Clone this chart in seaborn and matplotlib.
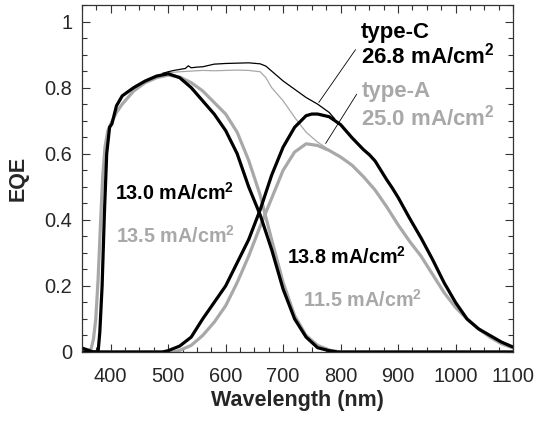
import matplotlib
matplotlib.use('Agg')
import matplotlib.pyplot as plt
import seaborn as sns
from matplotlib.ticker import MultipleLocator

# type-C top cell (thick black)
wl_c_top = [350, 360, 369, 378, 381, 385, 389, 393, 398, 402, 410, 420, 440, 460, 480, 500,
            520, 540, 560, 580, 600, 620, 640, 660, 680, 700, 720, 740, 760, 780, 795, 1100]
eqe_c_top = [0.012, 0.006, 0.0, 0.0, 0.06, 0.2, 0.42, 0.6, 0.68, 0.69, 0.745, 0.775, 0.8, 0.82, 0.835, 0.842,
             0.83, 0.8, 0.76, 0.72, 0.67, 0.6, 0.5, 0.415, 0.31, 0.19, 0.1, 0.045, 0.013, 0.004, 0.0, 0.0]

# type-A top cell (thick gray)
wl_a_top = [350, 360, 366, 370, 374, 378, 382, 386, 390, 395, 400, 410, 420, 440, 460, 480, 500,
            520, 540, 560, 580, 600, 620, 640, 660, 680, 700, 720, 740, 760, 780, 800, 1100]
eqe_a_top = [0.0, 0.003, 0.01, 0.04, 0.1, 0.22, 0.38, 0.53, 0.62, 0.67, 0.69, 0.725, 0.75, 0.79, 0.815, 0.83, 0.838,
             0.832, 0.815, 0.79, 0.755, 0.72, 0.665, 0.58, 0.475, 0.34, 0.21, 0.11, 0.05, 0.02, 0.006, 0.0, 0.0]

# type-C bottom cell (thick black)
wl_c_bot = [350, 490, 500, 520, 540, 560, 580, 600, 620, 640, 660, 680, 700, 720, 740, 750, 760, 780, 800,
            820, 830, 840, 850, 860, 870, 880, 890, 900, 920, 940, 960, 980, 1000, 1020, 1040, 1060, 1080, 1100]
eqe_c_bot = [0.0, 0.0, 0.004, 0.018, 0.045, 0.1, 0.15, 0.2, 0.27, 0.34, 0.43, 0.535, 0.62, 0.68, 0.715, 0.72, 0.72,
             0.712, 0.688, 0.648, 0.63, 0.612, 0.597, 0.578, 0.55, 0.522, 0.496, 0.468, 0.405, 0.345, 0.28, 0.21,
             0.15, 0.1, 0.07, 0.05, 0.03, 0.015]

# type-A bottom cell (thick gray)
wl_a_bot = [350, 510, 520, 540, 560, 580, 600, 620, 640, 660, 680, 700, 720, 740, 760, 780, 800, 820, 840,
            860, 880, 900, 920, 940, 960, 980, 1000, 1020, 1040, 1060, 1080, 1100]
eqe_a_bot = [0.0, 0.0, 0.005, 0.02, 0.05, 0.09, 0.14, 0.21, 0.29, 0.38, 0.465, 0.55, 0.605, 0.63, 0.625, 0.61,
             0.59, 0.565, 0.53, 0.49, 0.44, 0.385, 0.335, 0.29, 0.235, 0.18, 0.135, 0.1, 0.07, 0.045, 0.025, 0.012]

# totals (thin lines)
wl_c_sum = [490, 500, 510, 520, 530, 535, 540, 550, 560, 570, 580, 600, 620, 640, 660, 670, 680, 700,
            720, 740, 760, 780, 790]
eqe_c_sum = [0.843, 0.848, 0.852, 0.855, 0.858, 0.866, 0.86, 0.862, 0.863, 0.867, 0.871, 0.873, 0.874, 0.875,
             0.872, 0.865, 0.85, 0.82, 0.795, 0.77, 0.75, 0.725, 0.705]
wl_a_sum = [490, 500, 520, 540, 560, 580, 600, 620, 640, 660, 670, 680, 700, 720, 740, 760, 780]
eqe_a_sum = [0.843, 0.845, 0.848, 0.85, 0.852, 0.851, 0.852, 0.853, 0.852, 0.848, 0.83, 0.8, 0.76, 0.71,
             0.665, 0.635, 0.612]

x_ticks = [400, 500, 600, 700, 800, 900, 1000, 1100]
y_ticks = [0, 0.2, 0.4, 0.6, 0.8, 1.0]
y_tick_labels = ['0', '0.2', '0.4', '0.6', '0.8', '1']

# annotations: (text, x, y, colour, size)
labels = [
    ('type-C', 835, 0.951, 'black', 16),
    (r'26.8 mA/cm$^{\mathbf{2}}$', 835, 0.873, 'black', 16),
    ('type-A', 836, 0.773, 'gray', 16),
    (r'25.0 mA/cm$^{\mathbf{2}}$', 836, 0.686, 'gray', 16),
    (r'13.0 mA/cm$^{\mathbf{2}}$', 407, 0.462, 'black', 14.2),
    (r'13.5 mA/cm$^{\mathbf{2}}$', 410, 0.329, 'gray', 14.2),
    (r'13.8 mA/cm$^{\mathbf{2}}$', 707, 0.266, 'black', 14.2),
    (r'11.5 mA/cm$^{\mathbf{2}}$', 735, 0.136, 'gray', 14.2),
]
leader_c_x = [826, 762]
leader_c_y = [0.915, 0.755]
leader_a_x = [828, 774]
leader_a_y = [0.78, 0.631]

GRAY = '#a8a8a8'

sns.set_style('ticks')
plt.rcParams['font.family'] = ['Liberation Sans', 'DejaVu Sans']
plt.rcParams['mathtext.fontset'] = 'custom'
plt.rcParams['mathtext.rm'] = 'Liberation Sans'
plt.rcParams['mathtext.bf'] = 'Liberation Sans:bold'

fig = plt.figure(figsize=(5.37, 4.30), dpi=100)
ax = fig.add_axes([0.1527, 0.1814, 0.8026, 0.807])

thick = 2.3
thin = 0.9
sns.lineplot(x=wl_a_sum, y=eqe_a_sum, ax=ax, color=GRAY, lw=thin, sort=False, estimator=None)
sns.lineplot(x=wl_c_sum, y=eqe_c_sum, ax=ax, color='black', lw=thin, sort=False, estimator=None)
sns.lineplot(x=wl_a_top, y=eqe_a_top, ax=ax, color=GRAY, lw=thick, sort=False, estimator=None)
sns.lineplot(x=wl_a_bot, y=eqe_a_bot, ax=ax, color=GRAY, lw=thick, sort=False, estimator=None)
sns.lineplot(x=wl_c_top, y=eqe_c_top, ax=ax, color='black', lw=thick, sort=False, estimator=None)
sns.lineplot(x=wl_c_bot, y=eqe_c_bot, ax=ax, color='black', lw=thick, sort=False, estimator=None)

ax.plot(leader_c_x, leader_c_y, color='black', lw=0.6)
ax.plot(leader_a_x, leader_a_y, color='black', lw=0.6)

for txt, x, y, col, size in labels:
    ax.text(x, y, txt, color=GRAY if col == 'gray' else col, fontsize=size,
            fontweight='bold', ha='left', va='baseline')

ax.set_xlim(350, 1100)
ax.set_ylim(0, 1.05)
ax.set_xticks(x_ticks)
ax.set_yticks(y_ticks)
ax.set_yticklabels(y_tick_labels)
ax.xaxis.set_minor_locator(MultipleLocator(25))
ax.yaxis.set_minor_locator(MultipleLocator(0.05))
ax.tick_params(which='both', direction='in', top=True, right=True, labelsize=14.4, color='#333333')
ax.tick_params(which='major', length=6, width=0.8)
ax.tick_params(which='minor', length=3.5, width=0.8)
ax.tick_params(axis='x', pad=11)
ax.tick_params(axis='y', pad=7)
for s in ax.spines.values():
    s.set_linewidth(0.9)
    s.set_color('#333333')

ax.set_xlabel('Wavelength (nm)', fontsize=15.5, fontweight='bold', labelpad=3)
ax.set_ylabel('EQE', fontsize=15.5, fontweight='bold', labelpad=11)

fig.savefig('out.png', dpi=100)
